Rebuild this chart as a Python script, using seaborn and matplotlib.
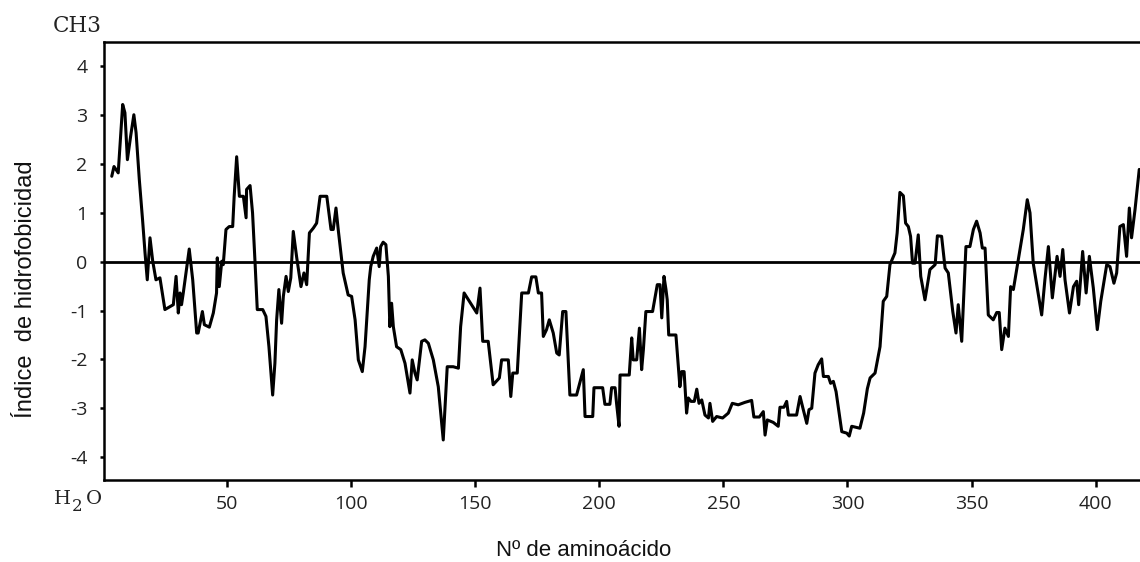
import numpy as np
import pandas as pd
import matplotlib
matplotlib.use("Agg")
import matplotlib.pyplot as plt
import seaborn as sns

# hydrophobicity profile
residue = [3.7, 4.6, 6.3, 8.1, 9.0, 10.0, 11.3, 12.6, 13.5, 14.8, 16.1, 17.1, 18.0, 19.1,
           20.2, 21.5, 23.1, 25.1, 28.5, 29.6, 30.5, 31.2, 31.8, 32.5, 34.9, 36.3, 37.9,
           38.5, 40.2, 41.0, 43.0, 44.6, 45.9, 46.2, 47.0, 48.0, 48.6, 49.7, 51.0, 52.4,
           53.0, 54.0, 55.1, 56.7, 57.8, 58.0, 59.4, 60.4, 61.4, 62.3, 64.5, 65.8, 67.0,
           68.5, 69.4, 70.1, 71.0, 72.1, 72.8, 73.9, 74.8, 75.8, 76.8, 78.2, 79.9, 81.1,
           82.2, 83.3, 84.9, 86.2, 87.6, 90.3, 92.0, 92.9, 94.0, 94.9,
           96.9, 98.9, 100.3, 101.7, 103.0, 104.6, 105.7, 107.4, 108.0, 109.0, 110.4,
           111.4, 112.0, 113.0, 114.1, 115.1, 115.7, 116.4, 117.1, 118.4, 120.1, 121.8,
           123.8, 124.7, 125.8, 126.7, 128.5, 129.8, 131.2, 133.2, 135.2, 137.2, 138.8,
           141.2, 143.3, 144.2, 145.6, 150.7, 152.0, 153.1, 155.3, 157.3, 159.8, 160.7,
           163.4, 164.4, 165.2, 167.0, 168.8, 171.5, 172.8, 174.5, 175.5, 176.8, 177.5,
           178.8, 179.9, 181.5, 182.9, 183.9, 185.3, 186.6, 188.2, 190.9,
           193.6, 194.3, 197.4, 197.9, 201.4, 202.3, 204.3, 205.0, 206.4, 207.0, 208.0,
           208.4, 212.1, 213.1, 213.7, 215.1, 216.2, 217.1, 217.8, 218.8, 221.5, 223.4,
           224.5, 225.2, 226.1, 226.9, 227.4, 228.0, 230.9, 231.9, 232.5, 233.2, 234.2,
           235.2, 235.9, 237.0, 238.3, 239.3, 240.2, 241.3, 242.6, 244.0, 244.6, 245.7,
           247.3, 249.7, 252.0, 253.6, 256.0, 258.7, 261.4, 262.3, 264.5, 266.1, 266.8,
           267.7, 270.1, 272.1, 272.8, 274.4, 275.5, 276.2, 279.5, 280.9, 282.2, 283.6,
           284.5, 285.6, 286.9, 288.2, 289.6, 290.3, 292.3, 293.2, 294.3, 295.4, 297.7,
           299.7, 300.7, 301.7, 305.0, 306.5, 308.0,
           309.1, 311.1, 313.1, 314.4, 315.8, 317.1, 319.1, 320.0, 321.1, 322.5, 323.4,
           324.5, 325.4, 326.2, 327.2, 328.5, 329.5, 331.2, 333.2, 335.3, 336.2, 337.9,
           339.3, 340.6, 342.4, 343.7, 344.6, 346.0, 347.7, 349.3, 350.7, 352.0, 353.4,
           354.3, 355.4, 356.7, 358.7, 360.1, 361.1, 362.1, 363.4, 364.8, 365.7, 366.8,
           368.8, 370.8, 372.4, 373.5, 374.8, 378.2, 379.5, 380.9, 382.5, 384.4, 385.6,
           386.7, 387.6, 389.4, 391.0, 392.3, 393.1, 394.7, 396.1, 397.4, 399.0, 400.6,
           402.0, 403.3, 404.4, 405.7, 407.3, 408.4, 409.7, 411.1, 412.4, 413.5, 414.4,
           415.8, 417.5]
hydro = [1.75, 1.95, 1.82, 3.22, 3.05, 2.09, 2.57, 3.01, 2.64, 1.68, 0.86, 0.18, -0.37, 0.49,
         0.01, -0.37, -0.33, -0.98, -0.88, -0.30, -1.05, -0.64, -0.88, -0.64, 0.26, -0.37, -1.46,
         -1.46, -1.02, -1.29, -1.34, -1.05, -0.64, 0.08, -0.51, 0.01, -0.06, 0.66, 0.72, 0.72,
         1.34, 2.15, 1.34, 1.34, 0.90, 1.48, 1.56, 1.00, -0.01, -0.98, -0.98, -1.12, -1.74,
         -2.73, -2.08, -1.19, -0.57, -1.26, -0.71, -0.30, -0.61, -0.33, 0.62, 0.08, -0.51, -0.23,
         -0.47, 0.59, 0.69, 0.79, 1.34, 1.34, 0.66, 0.66, 1.10, 0.66,
         -0.23, -0.68, -0.71, -1.19, -2.01, -2.25, -1.74, -0.37, -0.10, 0.11, 0.28,
         -0.10, 0.31, 0.40, 0.35, -0.30, -1.33, -0.85, -1.33, -1.74, -1.80, -2.08,
         -2.69, -2.01, -2.28, -2.42, -1.63, -1.60, -1.67, -2.01, -2.56, -3.65, -2.15,
         -2.15, -2.18, -1.33, -0.64, -1.05, -0.54, -1.63, -1.63, -2.52, -2.38, -2.01,
         -2.01, -2.76, -2.28, -2.28, -0.64, -0.64, -0.31, -0.31, -0.64, -0.64, -1.53,
         -1.39, -1.19, -1.46, -1.87, -1.91, -1.02, -1.02, -2.73, -2.73,
         -2.21, -3.17, -3.17, -2.58, -2.58, -2.92, -2.92, -2.58, -2.58, -2.90, -3.37,
         -2.32, -2.32, -1.56, -2.01, -2.01, -1.36, -2.21, -1.80, -1.02, -1.02, -0.47,
         -0.47, -1.15, -0.30, -0.57, -0.78, -1.50, -1.50, -2.15, -2.56, -2.25, -2.25,
         -3.10, -2.79, -2.86, -2.86, -2.61, -2.90, -2.83, -3.14, -3.20, -2.90, -3.27,
         -3.17, -3.20, -3.10, -2.90, -2.93, -2.88, -2.84, -3.18, -3.18, -3.07, -3.55,
         -3.24, -3.29, -3.37, -2.98, -2.98, -2.86, -3.14, -3.14, -2.76, -3.03, -3.31,
         -3.03, -3.00, -2.28, -2.11, -1.99, -2.35, -2.35, -2.49, -2.45, -2.66, -3.48,
         -3.51, -3.57, -3.37, -3.41, -3.10, -2.60,
         -2.38, -2.28, -1.74, -0.81, -0.71, -0.06, 0.18, 0.59, 1.42, 1.35, 0.79,
         0.72, 0.52, -0.03, -0.03, 0.55, -0.30, -0.78, -0.16, -0.06, 0.53, 0.52,
         -0.13, -0.23, -1.02, -1.46, -0.88, -1.63, 0.31, 0.31, 0.66, 0.83, 0.59,
         0.28, 0.28, -1.09, -1.19, -1.04, -1.04, -1.80, -1.36, -1.53, -0.51, -0.57,
         0.04, 0.66, 1.27, 1.00, -0.03, -1.09, -0.37, 0.31, -0.74, 0.11, -0.30,
         0.25, -0.37, -1.05, -0.51, -0.40, -0.88, 0.21, -0.64, 0.11, -0.54, -1.39,
         -0.81, -0.40, -0.06, -0.10, -0.44, -0.23, 0.72, 0.76, 0.11, 1.10, 0.49,
         1.07, 1.89]

x_ticks = [50, 100, 150, 200, 250, 300, 350, 400]
y_ticks = [-4, -3, -2, -1, 0, 1, 2, 3, 4]

df = pd.DataFrame({"residue": residue, "hydro": hydro})

sns.set_theme(style="ticks")
plt.rcParams["font.family"] = ["Open Sans", "DejaVu Sans"]
plt.rcParams["axes.unicode_minus"] = False

fig = plt.figure(figsize=(11.4, 5.62), dpi=100)
ax = fig.add_axes([0.0915, 0.1459, 0.9085, 0.7794])

sns.lineplot(data=df, x="residue", y="hydro", ax=ax, color="black", lw=2.2,
             estimator=None, sort=False)
ax.axhline(0, color="black", lw=2.0, zorder=3)

ax.set_xlim(0.7, 417.8)
ax.set_ylim(-4.47, 4.50)
ax.set_xticks(x_ticks)
ax.set_yticks(y_ticks)
ax.tick_params(axis="x", length=5, width=1.8, pad=6, labelsize=14, colors="black")
ax.tick_params(axis="y", length=3, width=1.8, pad=9, labelsize=14, colors="black")
for lab in ax.get_xticklabels() + ax.get_yticklabels():
    lab.set_color("#222222")

for s in ["left", "bottom", "top"]:
    ax.spines[s].set_linewidth(1.8)
    ax.spines[s].set_color("black")
ax.spines["right"].set_visible(False)

ax.set_xlabel("")
ax.set_ylabel("")
fig.text(584 / 1140, 1 - 551 / 562, "Nº de aminoácido", ha="center", va="center",
         fontsize=16, family="Liberation Sans", color="#111111")
fig.text(26 / 1140, 1 - 289 / 562, "Índice  de hidrofobicidad", ha="center", va="center",
         rotation=90, fontsize=17, family="Liberation Sans", color="#111111")
fig.text(77 / 1140, 1 - 26 / 562, "CH3", ha="center", va="center",
         fontsize=15.5, family="DejaVu Serif", color="#222222")
# H2O, subscript drawn as its own text
fig.text(54 / 1140, 1 - 504 / 562, "H", ha="left", va="baseline",
         fontsize=14, family="DejaVu Serif", color="#222222")
fig.text(72 / 1140, 1 - 511 / 562, "2", ha="left", va="baseline",
         fontsize=12, family="DejaVu Serif", color="#222222")
fig.text(86 / 1140, 1 - 504 / 562, "O", ha="left", va="baseline",
         fontsize=14, family="DejaVu Serif", color="#222222")

fig.savefig("out.png", dpi=100)
